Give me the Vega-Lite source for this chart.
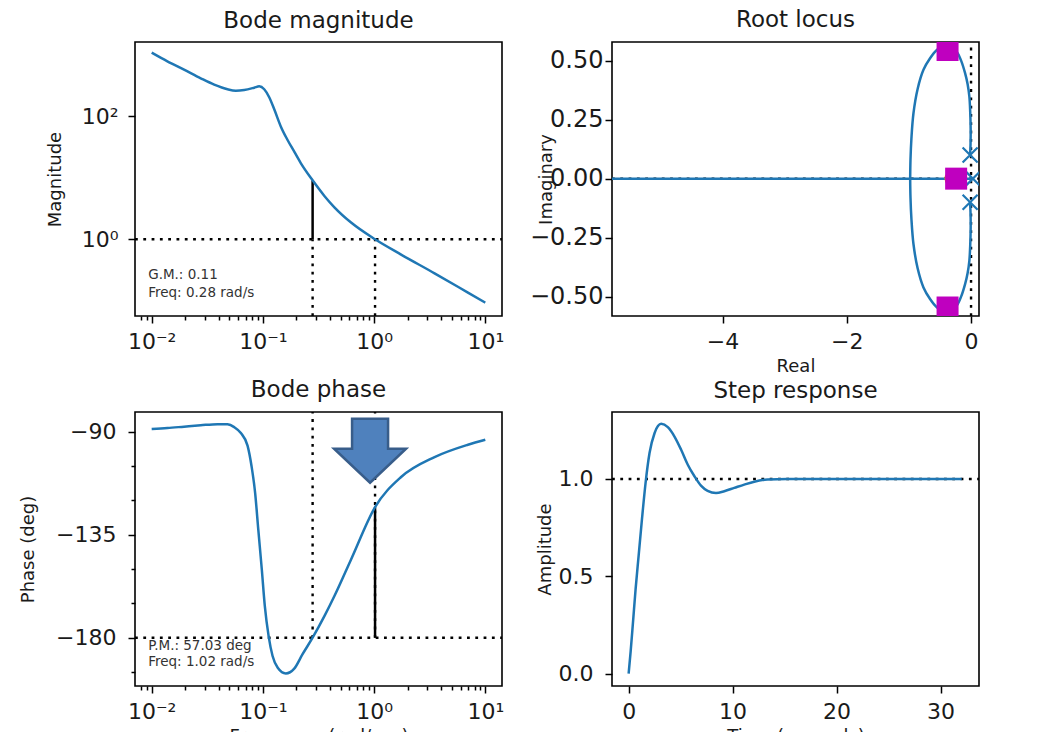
{
  "$schema": "https://vega.github.io/schema/vega-lite/v6.json",
  "background": "white",
  "padding": {"left": 18, "top": 8, "right": 5, "bottom": 5},
  "config": {
    "font": "DejaVu Sans",
    "view": {"stroke": "#000", "strokeWidth": 1.6},
    "axis": {
      "domain": false, "grid": false, "tickColor": "#000", "tickWidth": 1.5, "tickSize": 7,
      "labelFont": "DejaVu Sans", "labelFontSize": 22, "labelColor": "#1a1a1a", "labelPadding": 8,
      "labelOverlap": false, "labelFlush": false, "labelBound": false,
      "titleFont": "DejaVu Sans", "titleFontSize": 18, "titleFontWeight": "normal", "titleColor": "#1a1a1a"
    },
    "title": {"font": "DejaVu Sans", "fontSize": 23, "fontWeight": "normal", "color": "#1a1a1a", "baseline": "alphabetic", "offset": 9, "anchor": "middle"}
  },
  "datasets": {
    "mag": [
      {"w": 0.01, "m": 1084}, {"w": 0.01384, "m": 783}, {"w": 0.01954, "m": 574}, {"w": 0.02761, "m": 415},
      {"w": 0.03648, "m": 327}, {"w": 0.04808, "m": 275}, {"w": 0.05715, "m": 261}, {"w": 0.06793, "m": 268},
      {"w": 0.08356, "m": 292}, {"w": 0.09268, "m": 307}, {"w": 0.1028, "m": 275}, {"w": 0.114, "m": 204},
      {"w": 0.1265, "m": 130}, {"w": 0.1452, "m": 67.9}, {"w": 0.1667, "m": 41.2}, {"w": 0.1914, "m": 26.6},
      {"w": 0.2198, "m": 17.2}, {"w": 0.28, "m": 9.09}, {"w": 0.3573, "m": 5.07}, {"w": 0.4397, "m": 3.31},
      {"w": 0.6209, "m": 1.87}, {"w": 1.02, "m": 1.0}, {"w": 1.75, "m": 0.564}, {"w": 3.497, "m": 0.28},
      {"w": 6.98, "m": 0.136}, {"w": 10, "m": 0.0933}
    ],
    "magH": [{"w": 0.00708, "w2": 14.13, "m": 1}],
    "magV": [{"w": 0.28, "m": 0.0566, "m2": 1}, {"w": 1.02, "m": 0.0566, "m2": 1}],
    "magGM": [{"w": 0.28, "m": 1, "m2": 9.09}],
    "gmText": [{"w": 0.0093, "m": 0.263, "s": "G.M.: 0.11"}, {"w": 0.0093, "m": 0.1355, "s": "Freq: 0.28 rad/s"}],
    "phase": [
      {"w": 0.01, "p": -88.8}, {"w": 0.01384, "p": -88.4}, {"w": 0.01954, "p": -87.8}, {"w": 0.02761, "p": -87.2},
      {"w": 0.0391, "p": -86.7}, {"w": 0.04808, "p": -86.8}, {"w": 0.05521, "p": -88.0}, {"w": 0.06339, "p": -90.6},
      {"w": 0.07278, "p": -96.1}, {"w": 0.0791, "p": -105.1}, {"w": 0.0852, "p": -116.8}, {"w": 0.0909, "p": -132.7},
      {"w": 0.0978, "p": -150.2}, {"w": 0.1041, "p": -166.2}, {"w": 0.1126, "p": -179.3}, {"w": 0.1222, "p": -188.0},
      {"w": 0.136, "p": -193.1}, {"w": 0.1608, "p": -195.6}, {"w": 0.1914, "p": -193.5}, {"w": 0.2267, "p": -187.3},
      {"w": 0.28, "p": -180.0}, {"w": 0.3573, "p": -170.6}, {"w": 0.4397, "p": -161.8}, {"w": 0.6209, "p": -145.8},
      {"w": 1.02, "p": -122.97}, {"w": 1.75, "p": -109.8}, {"w": 3.497, "p": -101.1}, {"w": 6.98, "p": -95.7},
      {"w": 10, "p": -93.5}
    ],
    "phH": [{"w": 0.00708, "w2": 14.13, "p": -180}],
    "phV": [{"w": 0.28, "p": -180, "p2": -81.4}, {"w": 1.02, "p": -180, "p2": -81.4}],
    "phPM": [{"w": 1.02, "p": -180, "p2": -122.97}],
    "pmText": [{"w": 0.0093, "p": -183.6, "s": "P.M.: 57.03 deg"}, {"w": 0.0093, "p": -190.6, "s": "Freq: 1.02 rad/s"}],
    "marker": [{"w": 0.92, "p": -98.3}],
    "locus": [
      {"b": "u", "k": 1, "re": -0.015, "im": 0.1}, {"b": "u", "k": 2, "re": -0.008, "im": 0.15},
      {"b": "u", "k": 3, "re": -0.006, "im": 0.206}, {"b": "u", "k": 4, "re": -0.013, "im": 0.28},
      {"b": "u", "k": 5, "re": -0.027, "im": 0.347}, {"b": "u", "k": 6, "re": -0.055, "im": 0.4},
      {"b": "u", "k": 7, "re": -0.096, "im": 0.447}, {"b": "u", "k": 8, "re": -0.16, "im": 0.5},
      {"b": "u", "k": 9, "re": -0.23, "im": 0.538}, {"b": "u", "k": 10, "re": -0.32, "im": 0.56},
      {"b": "u", "k": 11, "re": -0.42, "im": 0.565}, {"b": "u", "k": 12, "re": -0.551, "im": 0.545},
      {"b": "u", "k": 13, "re": -0.66, "im": 0.51}, {"b": "u", "k": 14, "re": -0.766, "im": 0.461},
      {"b": "u", "k": 15, "re": -0.86, "im": 0.38}, {"b": "u", "k": 16, "re": -0.927, "im": 0.277},
      {"b": "u", "k": 17, "re": -0.96, "im": 0.17}, {"b": "u", "k": 18, "re": -0.975, "im": 0.08},
      {"b": "u", "k": 19, "re": -0.98, "im": 0.0},
      {"b": "l", "k": 1, "re": -0.015, "im": -0.1}, {"b": "l", "k": 2, "re": -0.008, "im": -0.15},
      {"b": "l", "k": 3, "re": -0.006, "im": -0.206}, {"b": "l", "k": 4, "re": -0.013, "im": -0.28},
      {"b": "l", "k": 5, "re": -0.027, "im": -0.347}, {"b": "l", "k": 6, "re": -0.055, "im": -0.4},
      {"b": "l", "k": 7, "re": -0.096, "im": -0.447}, {"b": "l", "k": 8, "re": -0.16, "im": -0.5},
      {"b": "l", "k": 9, "re": -0.23, "im": -0.538}, {"b": "l", "k": 10, "re": -0.32, "im": -0.56},
      {"b": "l", "k": 11, "re": -0.42, "im": -0.565}, {"b": "l", "k": 12, "re": -0.551, "im": -0.545},
      {"b": "l", "k": 13, "re": -0.66, "im": -0.51}, {"b": "l", "k": 14, "re": -0.766, "im": -0.461},
      {"b": "l", "k": 15, "re": -0.86, "im": -0.38}, {"b": "l", "k": 16, "re": -0.927, "im": -0.277},
      {"b": "l", "k": 17, "re": -0.96, "im": -0.17}, {"b": "l", "k": 18, "re": -0.975, "im": -0.08},
      {"b": "l", "k": 19, "re": -0.98, "im": 0.0},
      {"b": "r", "k": 1, "re": -5.78, "im": 0.0}, {"b": "r", "k": 2, "re": 0.0, "im": 0.0}
    ],
    "rlH": [{"re": -5.78, "re2": 0.128, "im": 0}],
    "rlV": [{"re": 0, "im": -0.582, "im2": 0.579}],
    "poles": [{"re": -0.015, "im": 0.1}, {"re": -0.015, "im": -0.1}, {"re": 0.03, "im": 0.0}],
    "zeros": [{"re": -0.3, "im": 0.0}],
    "clpoles": [{"re": -0.378, "im": 0.545}, {"re": -0.378, "im": -0.546}, {"re": -0.24, "im": 0.0}],
    "step": [
      {"t": 0, "a": 0}, {"t": 0.19, "a": 0.111}, {"t": 0.42, "a": 0.264}, {"t": 0.67, "a": 0.434},
      {"t": 0.96, "a": 0.605}, {"t": 1.28, "a": 0.792}, {"t": 1.63, "a": 0.98}, {"t": 2.01, "a": 1.133},
      {"t": 2.49, "a": 1.235}, {"t": 3.13, "a": 1.283}, {"t": 3.77, "a": 1.266}, {"t": 4.41, "a": 1.218},
      {"t": 5.05, "a": 1.15}, {"t": 5.69, "a": 1.073}, {"t": 6.33, "a": 1.014}, {"t": 6.96, "a": 0.966},
      {"t": 7.6, "a": 0.939}, {"t": 8.4, "a": 0.928}, {"t": 9.2, "a": 0.937}, {"t": 10.16, "a": 0.954},
      {"t": 11.12, "a": 0.971}, {"t": 12.08, "a": 0.986}, {"t": 13.35, "a": 0.997}, {"t": 15.27, "a": 1.0},
      {"t": 18.47, "a": 1.0}, {"t": 24.86, "a": 1.0}, {"t": 32.04, "a": 1.0}
    ],
    "stH": [{"t": -1.6, "t2": 33.7, "a": 1}]
  },
  "columns": 2,
  "spacing": {"row": 96, "column": 110},
  "bounds": "flush",
  "concat": [
    {
      "width": 367, "height": 274,
      "title": "Bode magnitude",
      "encoding": {
        "x": {
          "field": "w", "type": "quantitative",
          "scale": {"type": "log", "domain": [0.00708, 14.13], "nice": false},
          "axis": {
            "title": null,
            "values": [0.008, 0.009, 0.01, 0.02, 0.03, 0.04, 0.05, 0.06, 0.07, 0.08, 0.09, 0.1, 0.2, 0.3, 0.4, 0.5, 0.6, 0.7, 0.8, 0.9, 1, 2, 3, 4, 5, 6, 7, 8, 9, 10],
            "labelExpr": "datum.value == 0.01 ? '10⁻²' : datum.value == 0.1 ? '10⁻¹' : datum.value == 1 ? '10⁰' : datum.value == 10 ? '10¹' : ''",
            "tickSize": {"condition": {"test": "datum.value == 0.01 || datum.value == 0.1 || datum.value == 1 || datum.value == 10", "value": 7}, "value": 4}
          }
        },
        "y": {
          "field": "m", "type": "quantitative",
          "scale": {"type": "log", "domain": [0.0566, 1614], "nice": false},
          "axis": {
            "title": "Magnitude", "titleX": -80, "titleBaseline": "middle",
            "values": [1, 100], "labelPadding": 10,
            "labelExpr": "datum.value == 1 ? '10⁰' : '10²'"
          }
        }
      },
      "layer": [
        {"data": {"name": "magH"}, "mark": {"type": "rule", "color": "#000", "strokeWidth": 2.4, "strokeDash": [2.8, 5.5]}, "encoding": {"x2": {"field": "w2"}}},
        {"data": {"name": "magV"}, "mark": {"type": "rule", "color": "#000", "strokeWidth": 2.4, "strokeDash": [2.8, 5.5]}, "encoding": {"y2": {"field": "m2"}}},
        {"data": {"name": "magGM"}, "mark": {"type": "rule", "color": "#000", "strokeWidth": 2.5}, "encoding": {"y2": {"field": "m2"}}},
        {"data": {"name": "mag"}, "mark": {"type": "line", "color": "#1f77b4", "strokeWidth": 2.5, "interpolate": "monotone"}},
        {"data": {"name": "gmText"}, "mark": {"type": "text", "align": "left", "baseline": "middle", "fontSize": 13.5, "color": "#333"}, "encoding": {"text": {"field": "s"}}}
      ]
    },
    {
      "width": 367, "height": 274,
      "title": "Root locus",
      "encoding": {
        "x": {
          "field": "re", "type": "quantitative",
          "scale": {"domain": [-5.78, 0.128], "nice": false, "zero": false},
          "axis": {"title": "Real", "titleY": 55, "titleBaseline": "alphabetic", "values": [-4, -2, 0], "format": "d"}
        },
        "y": {
          "field": "im", "type": "quantitative",
          "scale": {"domain": [-0.582, 0.579], "nice": false, "zero": false},
          "axis": {"title": "Imaginary", "titleX": -66, "titleBaseline": "middle", "values": [-0.5, -0.25, 0, 0.25, 0.5], "format": ".2f", "labelPadding": 2, "labelFontSize": 24}
        }
      },
      "layer": [
        {"data": {"name": "rlH"}, "mark": {"type": "rule", "color": "#000", "strokeWidth": 2.4, "strokeDash": [2.8, 5.5]}, "encoding": {"x2": {"field": "re2"}}},
        {"data": {"name": "rlV"}, "mark": {"type": "rule", "color": "#000", "strokeWidth": 2.4, "strokeDash": [2.8, 5.5]}, "encoding": {"y2": {"field": "im2"}}},
        {"data": {"name": "locus"}, "mark": {"type": "line", "color": "#1f77b4", "strokeWidth": 2.5, "interpolate": "catmull-rom", "clip": true}, "encoding": {"detail": {"field": "b"}, "order": {"field": "k"}}},
        {"data": {"name": "zeros"}, "mark": {"type": "point", "shape": "circle", "filled": true, "color": "#ff7f0e", "size": 250, "opacity": 1, "clip": true}},
        {"data": {"name": "poles"}, "mark": {"type": "point", "shape": "M -1 -1 L 1 1 M -1 1 L 1 -1", "filled": false, "color": "#1f77b4", "strokeWidth": 2.2, "size": 225, "opacity": 1, "clip": true}},
        {"data": {"name": "clpoles"}, "mark": {"type": "point", "shape": "square", "filled": true, "color": "#bf00bf", "size": 484, "opacity": 1, "clip": true}}
      ]
    },
    {
      "width": 367, "height": 274,
      "title": "Bode phase",
      "encoding": {
        "x": {
          "field": "w", "type": "quantitative",
          "scale": {"type": "log", "domain": [0.00708, 14.13], "nice": false},
          "axis": {
            "title": "Frequency (rad/sec)", "titleY": 55, "titleBaseline": "alphabetic",
            "values": [0.008, 0.009, 0.01, 0.02, 0.03, 0.04, 0.05, 0.06, 0.07, 0.08, 0.09, 0.1, 0.2, 0.3, 0.4, 0.5, 0.6, 0.7, 0.8, 0.9, 1, 2, 3, 4, 5, 6, 7, 8, 9, 10],
            "labelExpr": "datum.value == 0.01 ? '10⁻²' : datum.value == 0.1 ? '10⁻¹' : datum.value == 1 ? '10⁰' : datum.value == 10 ? '10¹' : ''",
            "tickSize": {"condition": {"test": "datum.value == 0.01 || datum.value == 0.1 || datum.value == 1 || datum.value == 10", "value": 7}, "value": 4}
          }
        },
        "y": {
          "field": "p", "type": "quantitative",
          "scale": {"domain": [-201.1, -81.4], "nice": false, "zero": false},
          "axis": {
            "title": "Phase (deg)", "titleX": -106.5, "titleBaseline": "middle",
            "values": [-195, -180, -165, -150, -135, -120, -105, -90], "labelPadding": 12,
            "labelExpr": "datum.value % 45 == 0 ? datum.label : ''",
            "tickSize": {"condition": {"test": "datum.value % 45 == 0", "value": 7}, "value": 4}
          }
        }
      },
      "layer": [
        {"data": {"name": "phH"}, "mark": {"type": "rule", "color": "#000", "strokeWidth": 2.4, "strokeDash": [2.8, 5.5]}, "encoding": {"x2": {"field": "w2"}}},
        {"data": {"name": "phV"}, "mark": {"type": "rule", "color": "#000", "strokeWidth": 2.4, "strokeDash": [2.8, 5.5]}, "encoding": {"y2": {"field": "p2"}}},
        {"data": {"name": "phPM"}, "mark": {"type": "rule", "color": "#000", "strokeWidth": 2.5}, "encoding": {"y2": {"field": "p2"}}},
        {"data": {"name": "phase"}, "mark": {"type": "line", "color": "#1f77b4", "strokeWidth": 2.5, "interpolate": "monotone"}},
        {"data": {"name": "pmText"}, "mark": {"type": "text", "align": "left", "baseline": "middle", "fontSize": 13.5, "color": "#333"}, "encoding": {"text": {"field": "s"}}},
        {"data": {"name": "marker"}, "mark": {"type": "point", "shape": "M -0.5 -0.889 L 0.5 -0.889 L 0.5 -0.056 L 1 -0.056 L 0 0.889 L -1 -0.056 L -0.5 -0.056 Z", "size": 5184, "filled": true, "fill": "#4f81bd", "stroke": "#385d8a", "strokeWidth": 2.5, "opacity": 1}}
      ]
    },
    {
      "width": 367, "height": 274,
      "title": "Step response",
      "encoding": {
        "x": {
          "field": "t", "type": "quantitative",
          "scale": {"domain": [-1.6, 33.7], "nice": false, "zero": false},
          "axis": {"title": "Time (seconds)", "titleY": 55, "titleBaseline": "alphabetic", "values": [0, 10, 20, 30], "format": "d"}
        },
        "y": {
          "field": "a", "type": "quantitative",
          "scale": {"domain": [-0.064, 1.344], "nice": false, "zero": false},
          "axis": {"title": "Amplitude", "titleX": -67, "titleBaseline": "middle", "values": [0, 0.5, 1], "format": ".1f", "labelPadding": 12}
        }
      },
      "layer": [
        {"data": {"name": "stH"}, "mark": {"type": "rule", "color": "#000", "strokeWidth": 2.4, "strokeDash": [2.8, 5.5]}, "encoding": {"x2": {"field": "t2"}}},
        {"data": {"name": "step"}, "mark": {"type": "line", "color": "#1f77b4", "strokeWidth": 2.5, "interpolate": "monotone"}}
      ]
    }
  ]
}
